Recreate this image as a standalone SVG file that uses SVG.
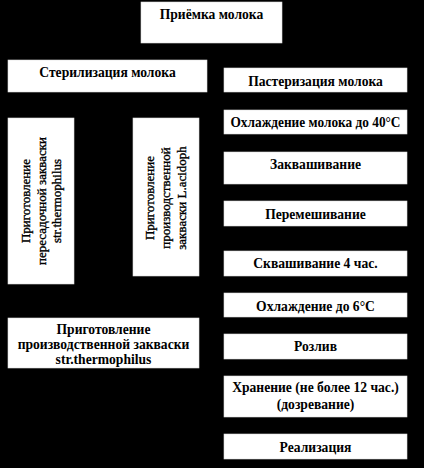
<svg xmlns="http://www.w3.org/2000/svg" width="424" height="468" viewBox="0 0 424 468">
<style>
.box{fill:#fff;stroke:#ddd;stroke-width:0.6}
.t{font-family:"Liberation Serif","Times New Roman",serif;font-size:13.6px;font-weight:bold;fill:#000;text-anchor:middle;dominant-baseline:central}
.v{font-family:"Liberation Serif","Times New Roman",serif;font-size:13px;font-weight:normal;fill:#000;stroke:#000;stroke-width:0.35;text-anchor:middle;dominant-baseline:central}
.c{fill:none;stroke:#000;stroke-width:1}
</style>
<defs>
<marker id="ah" markerWidth="6" markerHeight="6" refX="5" refY="3" orient="auto" markerUnits="userSpaceOnUse">
<path d="M0,0 L6,3 L0,6 z" fill="#000"/>
</marker>
</defs>
<rect x="0" y="0" width="424" height="468" fill="#000"/>
<g id="connectors">
<path class="c" d="M211,43 V51 H107 V59" marker-end="url(#ah)"/>
<path class="c" d="M211,51 H315 V67" marker-end="url(#ah)"/>
<path class="c" d="M315,92 V109" marker-end="url(#ah)"/>
<path class="c" d="M315,134 V151" marker-end="url(#ah)"/>
<path class="c" d="M315,184 V200" marker-end="url(#ah)"/>
<path class="c" d="M315,226 V250" marker-end="url(#ah)"/>
<path class="c" d="M315,276 V292" marker-end="url(#ah)"/>
<path class="c" d="M315,317 V333" marker-end="url(#ah)"/>
<path class="c" d="M315,359 V375" marker-end="url(#ah)"/>
<path class="c" d="M315,417 V433" marker-end="url(#ah)"/>
<path class="c" d="M41,92 V117" marker-end="url(#ah)"/>
<path class="c" d="M166,92 V117" marker-end="url(#ah)"/>
<path class="c" d="M41,284 V317" marker-end="url(#ah)"/>
<path class="c" d="M199,171 H226" marker-end="url(#ah)"/>
<path class="c" d="M199,343 H212 V171"/>
</g>
<g id="n-priemka"><rect class="box" x="141" y="2" width="141" height="41"/><text class="t" x="211.5" y="14">Приёмка молока</text></g>
<g id="n-steril"><rect class="box" x="8" y="60" width="199" height="32"/><text class="t" x="107.5" y="72">Стерилизация молока</text></g>
<g id="n-paster"><rect class="box" x="224" y="68" width="183" height="24"/><text class="t" x="315.5" y="81">Пастеризация молока</text></g>
<g id="n-cool40"><rect class="box" x="224" y="110" width="183" height="24"/><text class="t" x="315.5" y="122" textLength="170" lengthAdjust="spacingAndGlyphs">Охлаждение молока до 40°C</text></g>
<g id="n-peresad"><rect class="box" x="8" y="118" width="66" height="166"/>
<g transform="translate(41,201) rotate(-90)"><text class="v" x="0" y="-16">Приготовление</text><text class="v" x="0" y="0">пересадочной закваски</text><text class="v" x="0" y="15">str.thermophilus</text></g></g>
<g id="n-acidoph"><rect class="box" x="133" y="118" width="66" height="158"/>
<g transform="translate(165,198) rotate(-90)"><text class="v" x="0" y="-16">Приготовление</text><text class="v" x="0" y="0">производственной</text><text class="v" x="0" y="16">закваски L.acidoph</text></g></g>
<g id="n-zakvash"><rect class="box" x="224" y="152" width="183" height="32"/><text class="t" x="315.5" y="164">Заквашивание</text></g>
<g id="n-peremesh"><rect class="box" x="224" y="201" width="183" height="25"/><text class="t" x="315.5" y="214">Перемешивание</text></g>
<g id="n-skvash"><rect class="box" x="224" y="251" width="183" height="25"/><text class="t" x="315.5" y="263">Сквашивание 4 час.</text></g>
<g id="n-cool6"><rect class="box" x="224" y="293" width="183" height="24"/><text class="t" x="315.5" y="306">Охлаждение до 6°C</text></g>
<g id="n-proizv"><rect class="box" x="8" y="318" width="191" height="50"/><text class="t" x="103.5" y="329">Приготовление</text><text class="t" x="103.5" y="344">производственной закваски</text><text class="t" x="103.5" y="359">str.thermophilus</text></g>
<g id="n-rozliv"><rect class="box" x="224" y="334" width="183" height="25"/><text class="t" x="315.5" y="346">Розлив</text></g>
<g id="n-hranenie"><rect class="box" x="224" y="376" width="183" height="41"/><text class="t" x="315.5" y="387">Хранение (не более 12 час.)</text><text class="t" x="315.5" y="404">(дозревание)</text></g>
<g id="n-realiz"><rect class="box" x="224" y="434" width="183" height="25"/><text class="t" x="315.5" y="447">Реализация</text></g>
</svg>
